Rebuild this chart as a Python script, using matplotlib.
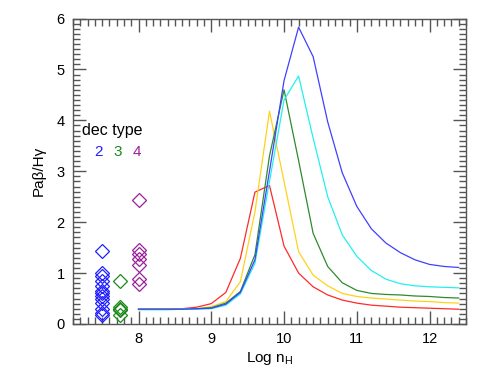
import matplotlib
matplotlib.use("Agg")
import matplotlib.pyplot as plt
from matplotlib.ticker import MultipleLocator

plt.rcParams['font.family'] = ['Liberation Sans', 'DejaVu Sans']
plt.rcParams['mathtext.fontset'] = 'custom'
plt.rcParams['mathtext.rm'] = 'Liberation Sans'
plt.rcParams['mathtext.it'] = 'Liberation Sans'

# ---- model curves (Log nH grid) ----
log_nh = [8.0, 8.2, 8.4, 8.6, 8.8, 9.0, 9.2, 9.4, 9.6, 9.8, 10.0, 10.2,
          10.4, 10.6, 10.8, 11.0, 11.2, 11.4, 11.6, 11.8, 12.0, 12.2, 12.4]

ratio_red = [0.29, 0.29, 0.29, 0.30, 0.33, 0.40, 0.62, 1.29, 2.59, 2.72, 1.53, 1.00,
             0.73, 0.57, 0.47, 0.41, 0.37, 0.35, 0.33, 0.32, 0.31, 0.30, 0.29]
ratio_yellow = [0.29, 0.29, 0.29, 0.29, 0.30, 0.34, 0.44, 0.83, 2.20, 4.18, 2.80, 1.42,
                0.96, 0.75, 0.60, 0.54, 0.51, 0.49, 0.47, 0.45, 0.44, 0.42, 0.41]
ratio_green = [0.29, 0.29, 0.29, 0.29, 0.30, 0.32, 0.41, 0.64, 1.36, 3.30, 4.60, 3.21,
               1.78, 1.13, 0.81, 0.66, 0.60, 0.58, 0.57, 0.55, 0.54, 0.52, 0.51]
ratio_cyan = [0.28, 0.28, 0.28, 0.29, 0.29, 0.30, 0.37, 0.59, 1.19, 2.80, 4.40, 4.87,
              3.65, 2.50, 1.75, 1.33, 1.05, 0.88, 0.79, 0.75, 0.73, 0.72, 0.71]
ratio_blue = [0.29, 0.29, 0.29, 0.29, 0.30, 0.31, 0.39, 0.62, 1.26, 3.00, 4.78, 5.83,
              5.25, 3.97, 2.97, 2.31, 1.87, 1.59, 1.40, 1.26, 1.17, 1.13, 1.11]

# ---- observed ratios by decrement type ----
x_type2 = 7.5
obs_type2 = [1.44, 1.00, 0.94, 0.85, 0.75, 0.65, 0.60, 0.55, 0.50, 0.42, 0.30, 0.22, 0.18]
x_type3 = 7.75
obs_type3 = [0.85, 0.33, 0.30, 0.27, 0.17]
x_type4 = 8.0
obs_type4 = [2.44, 1.45, 1.37, 1.28, 1.15, 0.88, 0.78]

type_labels = ['2', '3', '4']

fig = plt.figure(figsize=(4.91, 3.68), dpi=100)
ax = fig.add_axes([0.1487, 0.1196, 0.949 - 0.1487, 0.9497 - 0.1196])

lw = 0.9
ax.plot(log_nh, ratio_red, color='#ff2a2a', lw=lw)
ax.plot(log_nh, ratio_yellow, color='#ffd21a', lw=lw)
ax.plot(log_nh, ratio_green, color='#2e8b2e', lw=lw)
ax.plot(log_nh, ratio_cyan, color='#22f0f0', lw=lw)
ax.plot(log_nh, ratio_blue, color='#4040ff', lw=lw)

c2, c3, c4 = '#2020ff', '#1a8a1a', '#9a209a'
mk = dict(marker='D', ms=7, mfc='none', mew=0.9, ls='none')
ax.plot([x_type2] * len(obs_type2), obs_type2, color=c2, **mk)
ax.plot([x_type3] * len(obs_type3), obs_type3, color=c3, **mk)
ax.plot([x_type4] * len(obs_type4), obs_type4, color=c4, **mk)

ax.text(7.23, 3.71, 'dec type', fontsize=11.5, color='black', va='baseline', ha='left')
for xp, lab, col in zip([7.455, 7.715, 7.98], type_labels, [c2, c3, c4]):
    ax.text(xp, 3.30, lab, fontsize=11, color=col, va='baseline', ha='center')

ax.set_xlim(7.1, 12.5)
ax.set_ylim(0, 6)
ax.xaxis.set_major_locator(MultipleLocator(1))
ax.xaxis.set_minor_locator(MultipleLocator(0.1))
ax.yaxis.set_major_locator(MultipleLocator(1))
ax.yaxis.set_minor_locator(MultipleLocator(0.1))

spc = '#555555'
for s in ax.spines.values():
    s.set_color(spc)
    s.set_linewidth(1.0)
ax.tick_params(which='both', direction='in', top=True, right=True,
               color=spc, width=1.0, labelsize=10.5, labelcolor='black')
ax.tick_params(which='major', length=9.5, pad=6)
ax.tick_params(which='minor', length=4.7)

ax.set_xlabel(r'Log n$_\mathrm{H}$', fontsize=11, labelpad=3)
ax.set_ylabel('Paβ/Hγ', fontsize=11, labelpad=8)

fig.savefig('out.png', dpi=100)
